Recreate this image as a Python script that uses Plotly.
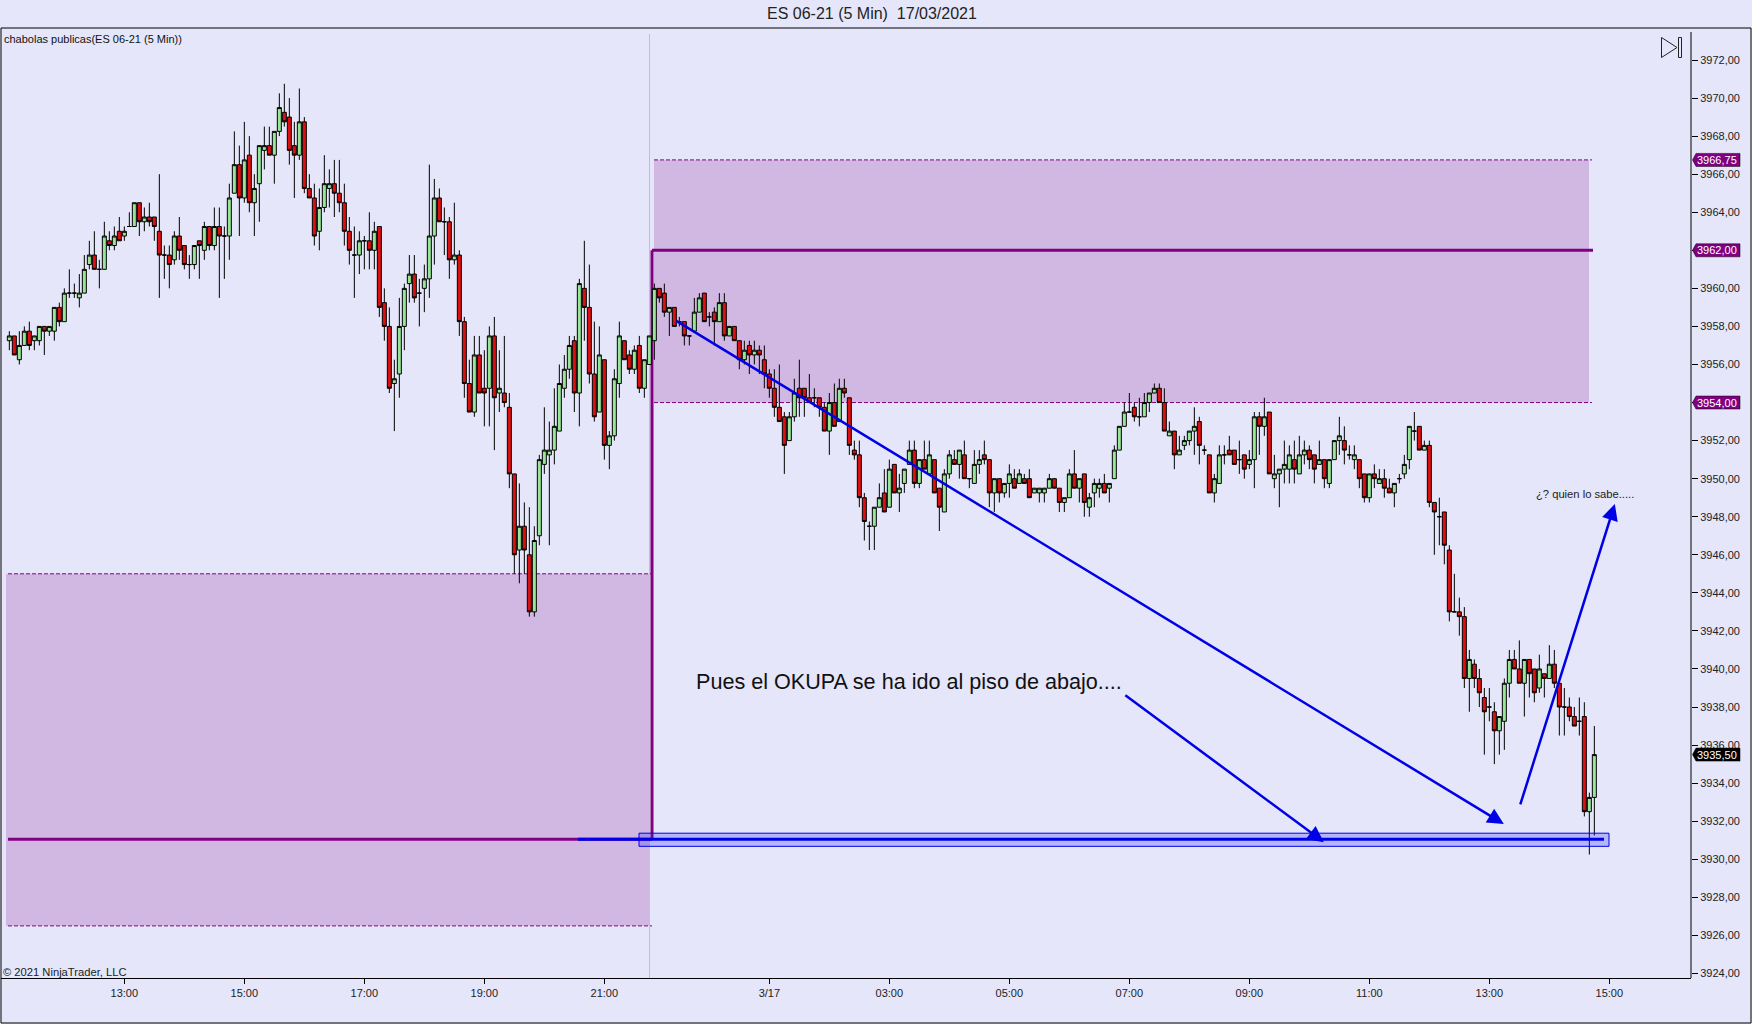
import plotly.graph_objects as go

open_prices = [
3957.25,3957.5,3956.25,3957,3957.75,3957.25,3957.25,3958,3957.75,3957.75,
3959,3958.25,3959.75,3959.75,3959.5,3959.75,3961.25,3961.75,3961,3961,
3962.5,3962.25,3963,3962.75,3963.25,3963.25,3964.5,3963.5,3963.75,3963.75,
3963,3961.75,3961.75,3961.5,3962.75,3962.25,3961.25,3961.25,3962.5,3962,
3963.25,3962.25,3963.25,3962.75,3962.75,3965,3966.5,3964.75,3967,3964.5,
3965.5,3967.25,3967.5,3967,3968.25,3969.25,3969,3967.5,3967,3968.75,
3965.25,3964.75,3963,3964.25,3965.25,3965.5,3965,3964.5,3963,3961.75,
3961.75,3962.5,3962.5,3962,3963.25,3959.25,3958,3955,3955.5,3958,
3960.25,3960.75,3959.75,3960,3960.5,3962.75,3964.75,3963.5,3963.5,3961.5,
3961.75,3958.25,3955,3953.5,3956.5,3954.75,3954.75,3957.5,3954.5,3954.5,
3953.75,3950.25,3946.25,3947.5,3946,3943,3947,3950.75,3951.25,3951.5,
3952.5,3954.75,3955.75,3957.25,3954.5,3960,3959,3955.5,3953.5,3956.25,
3951.75,3952.25,3955,3957.25,3956.5,3955.75,3957,3954.75,3956,3957.25,
3960,3959.75,3958.75,3959,3958.25,3958.25,3957.5,3957.75,3958.75,3959.75,
3958.5,3958.75,3958.25,3959.25,3957.5,3958,3957.25,3956.25,3957,3956.5,
3956.75,3956.25,3955.5,3954.75,3953.75,3953.25,3952,3953.25,3954.75,3954.75,
3954.25,3954.25,3954.25,3953.75,3952.5,3954,3953,3954.75,3954.25,3951.5,
3951.25,3949,3947.5,3947.5,3948.5,3949.25,3948.5,3950.75,3949.25,3949.75,
3950.75,3951.5,3949.75,3951,3950.25,3951,3949.5,3948.25,3950.25,3951,
3950.75,3951.25,3950,3949.75,3950.75,3951.25,3951,3949.25,3950,3949.25,
3949.75,3950,3949.75,3950,3950,3949.25,3949.25,3949.25,3949.5,3950,
3949.5,3948.75,3949,3950.25,3949.5,3950.25,3948.5,3949.25,3949.5,3949.75,
3949.5,3950,3951.5,3952.75,3953.5,3953.75,3953.25,3953.25,3954,3954.5,
3954.75,3954,3952.25,3952.5,3951.25,3951.75,3952,3952.5,3953,3951.5,
3951.25,3949.25,3949.75,3951.25,3951.5,3951.5,3951,3951.25,3950.75,3951,
3953.25,3952.75,3953.5,3950,3950.25,3950.5,3950.5,3951,3950.25,3951.25,
3951.5,3951.25,3950.75,3951,3949.75,3951,3952,3952,3951.25,3951,
3951,3950.25,3949,3950.25,3949.75,3950,3949.5,3949.25,3950,3950.25,
3951,3952.5,3952.75,3951.5,3951.75,3948.75,3948,3948.25,3946.25,3943,
3943,3942.75,3939.5,3940.25,3939.5,3938.5,3938,3937.75,3936.75,3937.25,
3939.25,3940.5,3940,3939.25,3940.5,3940,3939,3939.75,3939.5,3940.25,
3939.25,3938,3938,3937.5,3937.25,3937.5,3932.5,3933.25]

high_prices = [
3957.75,3957.5,3957.75,3958,3958.25,3957.5,3958,3958,3958,3959,
3959.25,3960,3961,3960.25,3960.75,3961.75,3962.5,3963,3961.5,3963.5,
3963,3963.25,3963.75,3963.25,3964,3964.5,3964.5,3964.25,3964.5,3963.75,
3966,3962.25,3962.25,3963,3963.75,3962.25,3961.75,3962.25,3962.5,3963.5,
3963.25,3964.25,3964.25,3963.25,3965.5,3968.25,3967.5,3968.75,3968,3966,
3967.5,3968.5,3968.5,3968.25,3970.25,3970.75,3970,3968.75,3970.5,3969,
3966,3965.5,3965.25,3967,3966.25,3966.75,3966.75,3965.5,3963.75,3963.25,
3963,3962.75,3964,3963.5,3963.25,3960,3959,3956.25,3959.5,3960.25,
3961.75,3961.75,3960.5,3961.25,3966.5,3965.75,3965.25,3964.25,3963.75,3964.5,
3962,3958.5,3956.25,3957.5,3957.5,3956.75,3958,3958.5,3956.75,3957.5,
3954.5,3950.25,3949.75,3948.75,3948.5,3947.5,3951.25,3953.75,3953,3954.75,
3956,3956.5,3957.5,3957.5,3960.5,3962.5,3961.25,3958.25,3958,3956.25,
3952.5,3955.75,3958.25,3957.25,3956.75,3957,3957.5,3956.25,3957.5,3960.25,
3960,3960.25,3959,3959,3958.5,3958.25,3957.5,3959.5,3959.75,3959.75,
3958.75,3959,3959.75,3959.75,3958,3958,3957.25,3957.25,3957.25,3957.25,
3957,3957,3955.75,3955.75,3956,3953.5,3953.5,3955.25,3956.25,3954.75,
3955.5,3954.75,3954.25,3954,3954.5,3955,3955.25,3955.25,3954.25,3952,
3952,3949.25,3947.75,3948.5,3949.75,3950.5,3951,3950.75,3950.25,3950.5,
3952,3952,3951,3952,3952,3951,3949.5,3950.5,3951.5,3951.5,
3951.5,3952,3950,3951.5,3951.5,3952,3951,3950,3950,3949.75,
3950.75,3950.5,3950.5,3950.25,3950.5,3949.5,3949.5,3949.5,3950.25,3950,
3949.5,3949,3950.5,3951.5,3950,3950.25,3949.25,3950,3950,3950.25,
3949.75,3951.75,3952.75,3954,3954.5,3954,3954.25,3954.5,3954.5,3955,
3955,3954.75,3953,3952.5,3952.25,3952.25,3952.5,3953.75,3953.25,3951.75,
3951.25,3950.25,3951.75,3951.75,3952.25,3951.5,3952,3951.25,3951.5,3953.5,
3953.5,3954.25,3953.5,3951.25,3950.5,3952,3951.75,3952,3952.25,3952,
3951.75,3951.25,3952,3951,3951,3952,3953.25,3952.75,3951.75,3951.75,
3951,3950.25,3950.25,3950.75,3950.5,3950.5,3950,3949.75,3950.25,3951.25,
3952.75,3953.5,3952.75,3952,3952,3948.75,3949,3948.25,3946.5,3945,
3943.75,3943.25,3941,3940.5,3940,3939,3939,3938.25,3937.5,3939.5,
3941,3941,3941.5,3940.5,3940.5,3940,3940.75,3939.75,3941.25,3941,
3939.25,3939,3938.5,3938,3938.5,3938.25,3933.5,3937]

low_prices = [
3956.75,3956.5,3956,3957,3956.75,3956.75,3957,3956.5,3957.5,3957.25,
3958,3958.25,3959.5,3959.5,3959,3959.75,3961,3961,3960,3961,
3962,3962,3962.5,3962.5,3963.25,3963.25,3962.75,3963,3963.25,3962.5,
3959.5,3960.5,3960,3961.25,3961.5,3961,3960.5,3961,3960.5,3961.5,
3962,3962,3959.5,3960.5,3961.5,3965,3962.75,3964.5,3964,3962.75,
3963.5,3966.25,3967,3965.5,3968,3968.5,3966.5,3964.75,3966.75,3965,
3964.75,3962.25,3962,3964,3964.25,3963.75,3964,3962.25,3961.25,3959.5,
3960.75,3961,3961,3961,3958.5,3957.25,3954.5,3952.5,3954.25,3956.75,
3959.25,3959.25,3958,3958.75,3959.5,3961.25,3963.5,3961.75,3960.5,3961.25,
3957.5,3954.25,3953.5,3953.25,3954.5,3952.75,3952.75,3951.5,3953.5,3953.75,
3949.5,3945,3944.5,3945,3942.75,3942.75,3946.5,3950.25,3946.5,3950.75,
3952.5,3954.25,3955.25,3953.5,3952.75,3957.25,3955,3953,3953.5,3951,
3950.5,3952,3954.25,3956.25,3955.5,3955.5,3954.5,3954.25,3956,3956.25,
3959.25,3958.5,3957.5,3958,3958,3957,3957,3957.75,3958.75,3958.25,
3958,3957,3958.25,3957.25,3957.5,3957.25,3955.75,3956,3955.5,3956,
3955.5,3954.75,3954.25,3953.25,3953,3950.25,3952,3953,3953.25,3953.25,
3954,3953.75,3953.25,3952.5,3951.25,3952.75,3953,3954.25,3951.25,3951,
3948.5,3946.75,3946.25,3946.25,3948.5,3948.25,3948.5,3949.25,3948.25,3949.25,
3950.75,3949.5,3949.5,3950.5,3950.25,3949.25,3947.25,3948.25,3950,3950.75,
3950,3950,3949.5,3949.75,3950.25,3950.75,3948.5,3948.25,3948.75,3949,
3949,3949.5,3949.75,3949.75,3949,3949.25,3948.75,3948.75,3949.5,3949.5,
3948.25,3948.25,3949,3949.5,3948.75,3948,3948,3948.5,3949,3949.25,
3948.75,3950,3951.5,3952.75,3953.5,3953,3952.75,3953.25,3953.5,3954.5,
3954,3952.5,3952.25,3950.5,3951.25,3951.5,3951.75,3951.25,3950.75,3951.25,
3949.25,3948.75,3949.75,3950.75,3951.25,3950.75,3950.25,3950,3950.5,3949.5,
3951.25,3952.25,3950.25,3949.5,3948.5,3949.75,3949.75,3949.75,3950.25,3950.75,
3950.5,3949.75,3950.75,3949.5,3949.5,3951,3951.25,3950.75,3951,3950.5,
3949.5,3948.75,3948.75,3949.5,3949.75,3949,3949.25,3948.5,3949.75,3950,
3950.5,3952,3951.5,3951.5,3948.5,3946,3946.5,3945.5,3942.5,3943,
3941.75,3939,3937.75,3939,3938,3935.5,3937.25,3935,3935.5,3935.75,
3938.5,3940,3939.25,3937.5,3938.5,3938.25,3938.75,3938.5,3939.5,3939,
3936.5,3936.5,3937.25,3937,3936.5,3932.25,3930.25,3931.25]

close_prices = [
3957.5,3956.5,3957,3957.75,3957,3957.5,3958,3957.75,3958,3959,
3958.25,3959.75,3959.75,3959.75,3959.75,3961,3961.75,3961,3961,3962.75,
3962.25,3962.75,3962.5,3963,3963.25,3964.5,3963.5,3963.75,3963.5,3963.25,
3961.75,3961.75,3961.25,3962.75,3962,3961.25,3961.25,3962.25,3962.25,3963.25,
3962.25,3963.25,3962.75,3962.75,3964.75,3966.5,3964.75,3966.75,3964.5,3965.25,
3967.5,3967.5,3967,3968.25,3969.5,3968.75,3967.25,3967,3968.75,3965.25,
3964.75,3962.75,3964.25,3965.5,3965.5,3965,3964.5,3963,3962,3961.75,
3962.5,3962.5,3962,3963,3959,3958,3954.75,3955.25,3958,3960,
3960.75,3959.5,3959.75,3960.5,3962.75,3964.75,3963.5,3963.5,3961.5,3961.75,
3958.25,3955,3953.5,3956.5,3954.5,3954.5,3957.5,3954.25,3954.75,3954,
3950.25,3946,3947.5,3946.25,3943,3946.75,3951,3951.5,3951.5,3952.75,
3955,3955.75,3957,3954.5,3960.25,3959,3955.5,3953.25,3956.5,3951.75,
3952.25,3955.25,3957.5,3956.25,3955.75,3956.75,3954.75,3956.25,3957.5,3960,
3959.5,3958.75,3959,3958,3958.25,3957.5,3957.5,3958.75,3959.5,3958.25,
3958.5,3958.25,3959.25,3957.5,3958,3957.25,3956.25,3956.75,3956.5,3956.75,
3956.5,3955.5,3954.75,3953.75,3953,3951.75,3953.25,3954.5,3954.25,3954.25,
3954,3954.25,3953.75,3952.5,3954,3952.75,3954.75,3954.5,3951.75,3951.25,
3949,3947.75,3947.5,3948.5,3949,3948.25,3950.5,3949.25,3949.5,3950.5,
3951.5,3949.75,3951,3950.5,3951.25,3949.25,3948.5,3950.25,3951.25,3950.75,
3951.5,3950,3950,3950.75,3951,3951,3949.25,3950,3949.25,3949.75,
3950.25,3949.5,3950.25,3949.75,3949,3949.5,3949.5,3949.5,3950,3949.5,
3948.75,3949,3950.25,3949.5,3950,3948.75,3949,3949.75,3949.75,3949.25,
3949.75,3951.5,3952.75,3953.5,3953.5,3953.25,3953.25,3954,3954.5,3954.75,
3954,3952.5,3952.5,3951.25,3951.5,3952,3952.5,3952.75,3951.75,3951.5,
3949.25,3950,3951.25,3951.25,3951.25,3950.75,3951,3950.5,3951,3953.25,
3952.75,3953.25,3950.25,3950.25,3950.5,3950.75,3951.25,3950.5,3951.25,3951.5,
3951,3950.5,3951,3950,3951,3952,3952.25,3951.5,3951.25,3951.25,
3950,3949,3950.25,3950,3950,3949.5,3949.25,3949.75,3950,3950.75,
3952.75,3952.5,3951.5,3951.75,3948.75,3948.25,3948,3946.5,3943,3943,
3942.75,3939.5,3940.5,3939.5,3938.75,3937.75,3938,3936.75,3937.5,3939.25,
3940.5,3940,3939.25,3940.5,3939.75,3938.75,3940,3939.5,3940.25,3939.25,
3938,3938,3937.5,3937,3937.25,3932.5,3933.25,3935.5]

x_tick_bars = [23, 47, 71, 95, 119, 152, 176, 200, 224, 248, 272, 296, 320]
x_tick_labels = ["13:00", "15:00", "17:00", "19:00", "21:00", "3/17", "03:00", "05:00",
                 "07:00", "09:00", "11:00", "13:00", "15:00"]
y_tick_values = list(range(3924, 3973, 2))
y_tick_labels = [f"{v},00" for v in y_tick_values]

UPPER_ZONE = (3966.75, 3954.0)
LOWER_ZONE = (3945.0, 3926.5)
LEVEL_HIGH = 3962.0
LEVEL_LOW = 3931.05
price_tags = [(3966.75, "3966,75", "#800080"), (3962.0, "3962,00", "#800080"),
              (3954.0, "3954,00", "#800080"), (3935.5, "3935,50", "#000000")]

W, H = 1752, 1024
L, R, T, B = 1, 1691, 28, 978
PXU = 19.03
X0, BAR = 9.33, 5.0

def bx(px):
    return (px - X0) / BAR

def py(p):
    return 3972 - (p - 60) / PXU

def pax(px):
    return (px - L) / (R - L)

def pay(p):
    return 1 - (p - T) / (B - T)

PURPLE = "#800080"
BLUE = "#0000E6"
ZONE = "#D1B8E2"
BG = "#E5E6F9"
FONT = "Liberation Sans"

bars = list(range(len(open_prices)))
fig = go.Figure(go.Candlestick(
    x=bars, open=open_prices, high=high_prices, low=low_prices, close=close_prices,
    increasing=dict(fillcolor="#9AE59A", line=dict(color="#000000", width=1)),
    decreasing=dict(fillcolor="#DC1010", line=dict(color="#000000", width=1)),
    whiskerwidth=0, hoverinfo="skip", showlegend=False))

shapes = []
# session break
shapes.append(dict(type="line", xref="x", yref="paper", x0=bx(649.5), x1=bx(649.5), y0=0, y1=pay(34),
                   line=dict(color="#C0C0C8", width=1), layer="below"))
# zones
for (top, bot), a, b in [(UPPER_ZONE, 654, 1589), (LOWER_ZONE, 6, 650)]:
    shapes.append(dict(type="rect", xref="x", yref="y", x0=bx(a), x1=bx(b), y0=bot, y1=top,
                       fillcolor=ZONE, line=dict(width=0), layer="below"))
for (top, bot), a, b in [(UPPER_ZONE, 654, 1592), (LOWER_ZONE, 8, 652)]:
    for lv in (top, bot):
        shapes.append(dict(type="line", xref="x", yref="y", x0=bx(a), x1=bx(b), y0=lv, y1=lv,
                           line=dict(color=PURPLE, width=1, dash="4px,2px"), layer="below"))
# purple step
for x0, x1, y0, y1 in [(8, 652, LEVEL_LOW, LEVEL_LOW), (652, 652, LEVEL_LOW, LEVEL_HIGH), (652, 1593, LEVEL_HIGH, LEVEL_HIGH)]:
    shapes.append(dict(type="line", xref="x", yref="y", x0=bx(x0), x1=bx(x1), y0=y0, y1=y1,
                       line=dict(color=PURPLE, width=3), layer="below"))
# blue level + box
shapes.append(dict(type="rect", xref="x", yref="y", x0=bx(639), x1=bx(1609), y0=3930.68, y1=3931.37,
                   fillcolor="rgba(40,40,255,0.25)", line=dict(color=BLUE, width=1), layer="above"))
shapes.append(dict(type="line", xref="x", yref="y", x0=bx(578), x1=bx(1604), y0=LEVEL_LOW, y1=LEVEL_LOW,
                   line=dict(color=BLUE, width=3), layer="above"))
# frame and price axis line
shapes.append(dict(type="rect", xref="paper", yref="paper", x0=pax(1), x1=pax(1751), y0=pay(1023), y1=pay(28),
                   line=dict(color="#000000", width=1), fillcolor="rgba(0,0,0,0)", layer="above"))
shapes.append(dict(type="line", xref="paper", yref="paper", x0=1, x1=1, y0=0, y1=pay(32),
                   line=dict(color="#000000", width=1), layer="above"))
# top-right icon
shapes.append(dict(type="path", xref="paper", yref="paper",
                   path=f"M{pax(1661.5)},{pay(37.5)} L{pax(1677)},{pay(47.5)} L{pax(1661.5)},{pay(57.5)} Z",
                   line=dict(color="#222222", width=1), fillcolor="rgba(0,0,0,0)", layer="above"))
shapes.append(dict(type="rect", xref="paper", yref="paper", x0=pax(1678.5), x1=pax(1681.5), y0=pay(57.5), y1=pay(37.5),
                   line=dict(color="#222222", width=1), fillcolor="rgba(0,0,0,0)", layer="above"))

annotations = []
for price, label, color in price_tags:
    tip, t, r = 1.5, 5, 49
    shapes.append(dict(type="path", xref="paper", yref="y", xsizemode="pixel", ysizemode="pixel",
                       xanchor=1, yanchor=price,
                       path=f"M{tip},0 L{t},-6.5 L{r},-6.5 L{r},6.5 L{t},6.5 Z",
                       fillcolor=color, line=dict(color="#000000", width=0.5), layer="above"))
    annotations.append(dict(xref="paper", yref="y", x=1, y=price, xanchor="left", yanchor="middle",
                            xshift=4, text=label, showarrow=False,
                            font=dict(family=FONT, size=11, color="#FFFFFF")))

def text_at(px, p, s, size, color="#111111", anchor="left"):
    annotations.append(dict(xref="paper", yref="paper", x=pax(px), y=pay(p), xanchor=anchor, yanchor="middle",
                            text=s, showarrow=False, font=dict(family=FONT, size=size, color=color),
                            borderpad=0, xshift=0))

text_at(872, 14, "ES 06-21 (5 Min)  17/03/2021", 16, "#222222", "center")
text_at(3, 39, "chabolas publicas(ES 06-21 (5 Min))", 11)
text_at(2, 971.5, "© 2021 NinjaTrader, LLC", 11.2, "#222222")
text_at(695, 681, "Pues el OKUPA se ha ido al piso de abajo....", 21.6)
text_at(1535, 494, "¿? quien lo sabe.....", 11.2, "#222222")

arrows = [((133.1, 3958.34), (298.9, 3931.85)),
          ((222.9, 3938.68), (262.9, 3930.9)),
          ((302.1, 3932.8), (321.1, 3948.67))]
for (sx, sy), (tx, ty) in arrows:
    annotations.append(dict(xref="x", yref="y", axref="x", ayref="y", x=tx, y=ty, ax=sx, ay=sy, text="",
                            showarrow=True, arrowhead=2, arrowsize=1.3, arrowwidth=2.5, arrowcolor=BLUE, standoff=0))

fig.update_layout(
    width=W, height=H, autosize=False,
    margin=dict(l=L, r=W - R, t=T, b=H - B, pad=0),
    paper_bgcolor=BG, plot_bgcolor=BG,
    boxgap=0, boxgroupgap=0.2,
    font=dict(family=FONT, size=11, color="#222222"),
    shapes=shapes, annotations=annotations, showlegend=False,
    xaxis=dict(type="linear", range=[bx(L), bx(R)], tickmode="array", tickvals=x_tick_bars, ticktext=x_tick_labels,
               ticks="outside", ticklen=5, tickwidth=1, tickcolor="#000000", showgrid=False, zeroline=False,
               showline=True, linecolor="#000000", linewidth=1, rangeslider=dict(visible=False),
               tickfont=dict(family=FONT, size=11, color="#222222"), fixedrange=True),
    yaxis=dict(side="right", range=[py(B), py(T)], tickmode="array", tickvals=y_tick_values, ticktext=y_tick_labels,
               ticks="outside", ticklen=6, tickwidth=1, tickcolor="#000000", showgrid=False, zeroline=False,
               showline=False, tickfont=dict(family=FONT, size=11, color="#222222"), fixedrange=True),
)

fig.write_html("out.html", config=dict(displayModeBar=False, responsive=False),
               post_script="document.body.style.margin='0';document.body.style.overflow='hidden';")
